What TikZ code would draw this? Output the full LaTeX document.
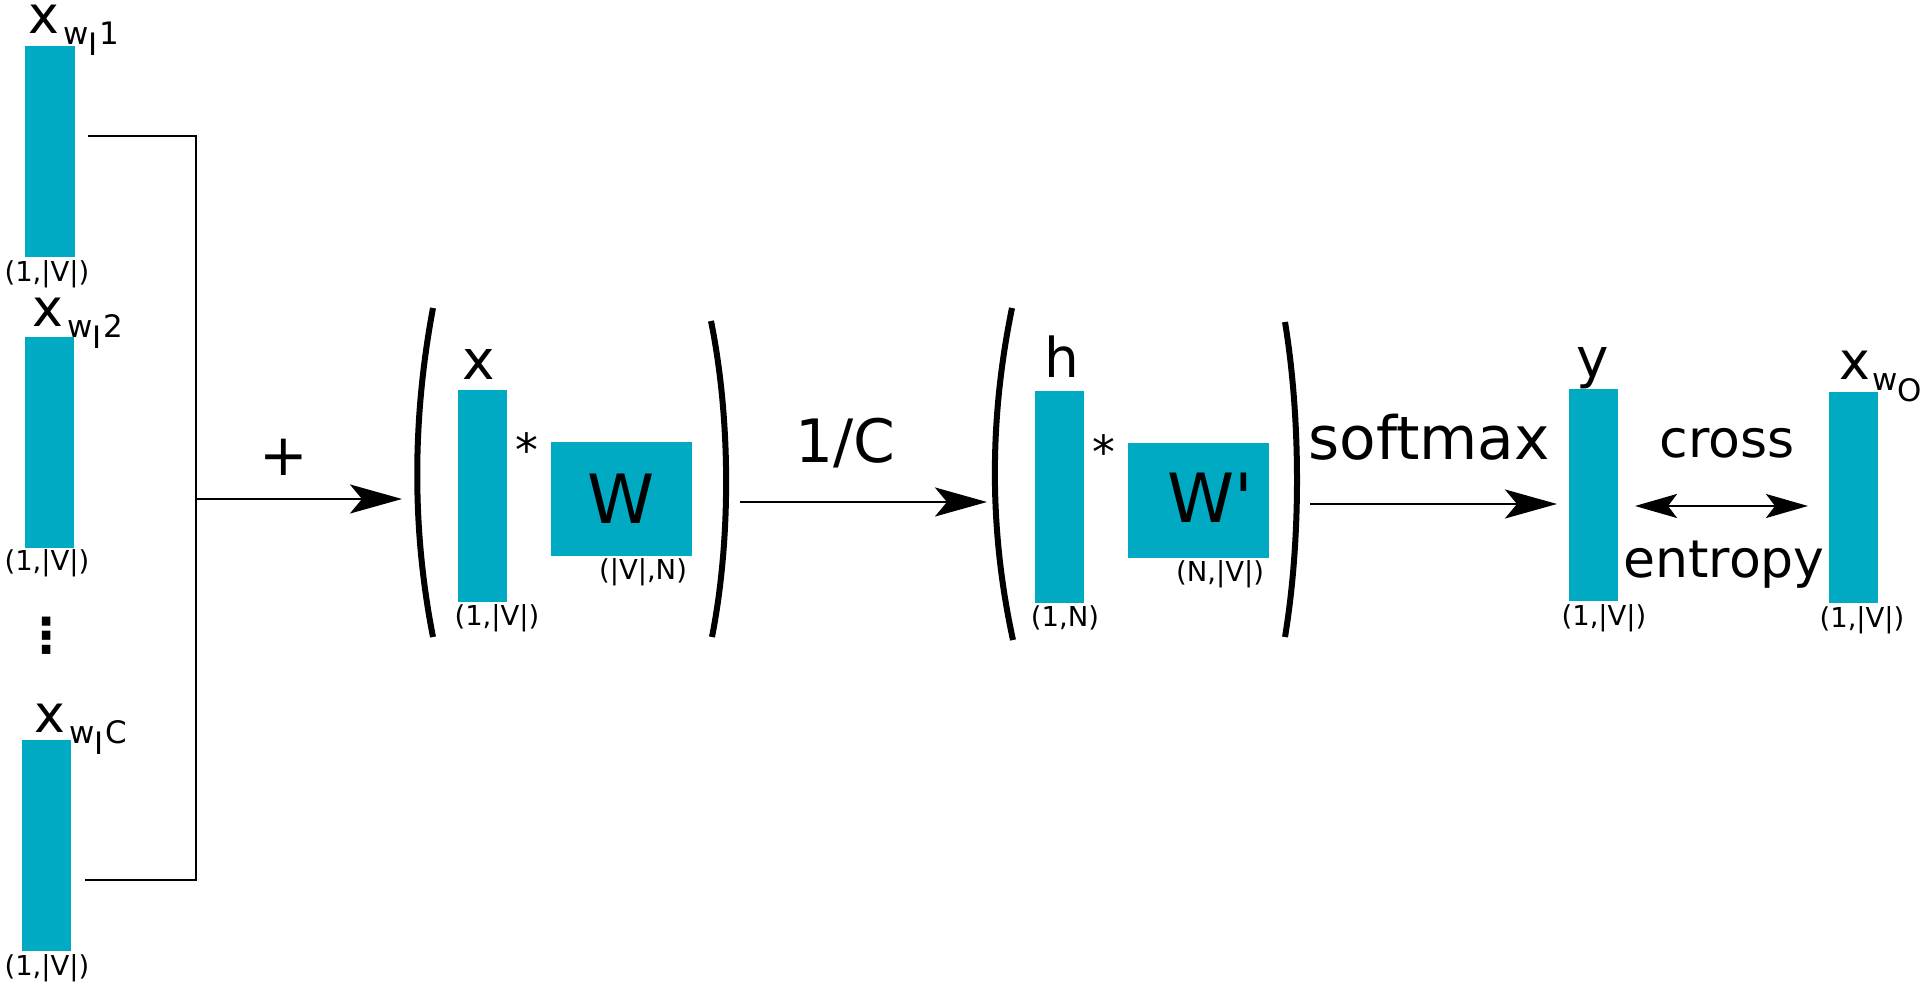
\documentclass[tikz,border=0pt]{standalone}
\usepackage{fontspec}
\setmainfont{DejaVu Sans}
\usetikzlibrary{arrows.meta,calc}
\definecolor{vecblue}{RGB}{0,170,195}
\newcommand{\subsz}{\fontsize{8.8pt}{10pt}\selectfont}
\newcommand{\wordvec}[2]{x\kern1.2pt\raisebox{-2.9pt}{\subsz w\raisebox{-3.1pt}{#1}\kern0.6pt#2}}

\begin{document}
\begin{tikzpicture}[x=0.01cm,y=-0.01cm,
  vec/.style={fill=vecblue,inner sep=0pt,outer sep=0pt,minimum width=0.49cm,minimum height=2.11cm},
  mat/.style={fill=vecblue,inner sep=0pt,outer sep=0pt,minimum width=1.41cm,minimum height=1.14cm},
  dimlbl/.style={inner sep=0pt,font=\fontsize{7.8pt}{9pt}\selectfont},
  namelbl/.style={inner sep=0pt,anchor=base,font=\fontsize{15.6pt}{18pt}\selectfont},
  wordlbl/.style={inner sep=0pt,anchor=base west,font=\fontsize{14.8pt}{18pt}\selectfont},
  oplbl/.style={inner sep=0pt,anchor=base,font=\fontsize{17pt}{20pt}\selectfont},
  bigarrow/.style={line width=0.025cm,-{Stealth[length=0.52cm,width=0.29cm,inset=0.12cm]}},
  paren/.style={line width=0.06cm}]
\useasboundingbox (0,0) rectangle (1921,986);

% context words
\node[vec] (in1) at (50,151.5) {};
\node[vec] (in2) at (49.5,442.5) {};
\node[vec] (inC) at (46.5,845.5) {};
\node[wordlbl] (in1lbl) at (27.5,34) {\wordvec{I}{1}};
\node[wordlbl] (in2lbl) at (31.5,327) {\wordvec{I}{2}};
\node[wordlbl] (inClbl) at (33.5,733) {\wordvec{I}{C}};
\node[dimlbl] (in1dim) at (47,274) {(1,|V|)};
\node[dimlbl] (in2dim) at (47,563) {(1,|V|)};
\node[dimlbl] (inCdim) at (47,968) {(1,|V|)};
\node[inner sep=0pt,font=\fontsize{13.7pt}{16pt}\selectfont\bfseries] (dots) at (47,636) {⋮};

% sum
\coordinate (t1) at (88,136);
\coordinate (jt) at (196,136);
\coordinate (jb) at (196,880);
\coordinate (tC) at (85,880);
\coordinate (jm) at (196,499);
\coordinate (e1) at (402,499);
\draw[line width=0.025cm] (t1) -- (jt) -- (jb) -- (tC);
\draw[bigarrow] (jm) -- (e1);
\node[inner sep=0pt,font=\fontsize{16.5pt}{18pt}\selectfont] (plus) at (284,457) {+};

% hidden layer
\draw[paren] (433,308) .. controls (412,420) and (412,530) .. (433,637);
\draw[paren] (711,321) .. controls (731,420) and (731,540) .. (712,637);
\node[vec] (x) at (482.5,496) {};
\node[namelbl] (xlbl) at (479,380) {x};
\node[dimlbl] (xdim) at (497,618) {(1,|V|)};
\node[inner sep=0pt,anchor=base,font=\fontsize{13pt}{15pt}\selectfont] (mul1) at (527,467) {*};
\node[mat,font=\fontsize{19.3pt}{22pt}\selectfont] (W) at (621.5,499) {W};
\node[dimlbl] (Wdim) at (643,572) {(|V|,N)};

\coordinate (s2) at (740,502);
\coordinate (e2) at (987,502);
\draw[bigarrow] (s2) -- (e2);
\node[oplbl] (avg) at (845,463) {1/C};

% output layer
\draw[paren] (1012,308) .. controls (989,420) and (989,530) .. (1013,640);
\draw[paren] (1285,322) .. controls (1301,420) and (1301,540) .. (1285,637);
\node[vec] (h) at (1059.5,497) {};
\node[namelbl] (hlbl) at (1062,378) {h};
\node[dimlbl] (hdim) at (1065,618) {(1,N)};
\node[inner sep=0pt,anchor=base,font=\fontsize{13pt}{15pt}\selectfont] (mul2) at (1104,469) {*};
\node[mat] (W2) at (1198.5,500.5) {};
\node[inner sep=0pt,anchor=base,font=\fontsize{19.3pt}{22pt}\selectfont] (W2lbl) at (1210,523) {W\textquotesingle};
\node[dimlbl] (W2dim) at (1220,574) {(N,|V|)};

\node[vec] (y) at (1593.5,495) {};
\node[namelbl] (ylbl) at (1593,378) {y};
\node[dimlbl] (ydim) at (1604,618) {(1,|V|)};
\coordinate (s3) at (1310,504);
\draw[bigarrow] (s3) -- ($(y.west)+(-12,9)$);
\node[oplbl] (soft) at (1429,460) {softmax};

% target word
\node[vec] (out) at (1853.5,497.5) {};
\node[wordlbl] (outlbl) at (1839,380) {x\kern0.6pt\raisebox{-2.9pt}{\subsz w\raisebox{-3.1pt}{O}}};
\node[dimlbl] (outdim) at (1862,620) {(1,|V|)};
\draw[line width=0.02cm,{Stealth[length=0.42cm,width=0.24cm,inset=0.09cm]}-{Stealth[length=0.42cm,width=0.24cm,inset=0.09cm]}]
  ($(y.east)+(17,11)$) -- ($(out.west)+(-21,8.5)$);
\node[inner sep=0pt,anchor=base,font=\fontsize{14.8pt}{17pt}\selectfont] (cross) at (1727,458) {cross};
\node[inner sep=0pt,anchor=base,font=\fontsize{14.8pt}{17pt}\selectfont] (entropy) at (1724,578) {entropy};
\end{tikzpicture}
\end{document}
